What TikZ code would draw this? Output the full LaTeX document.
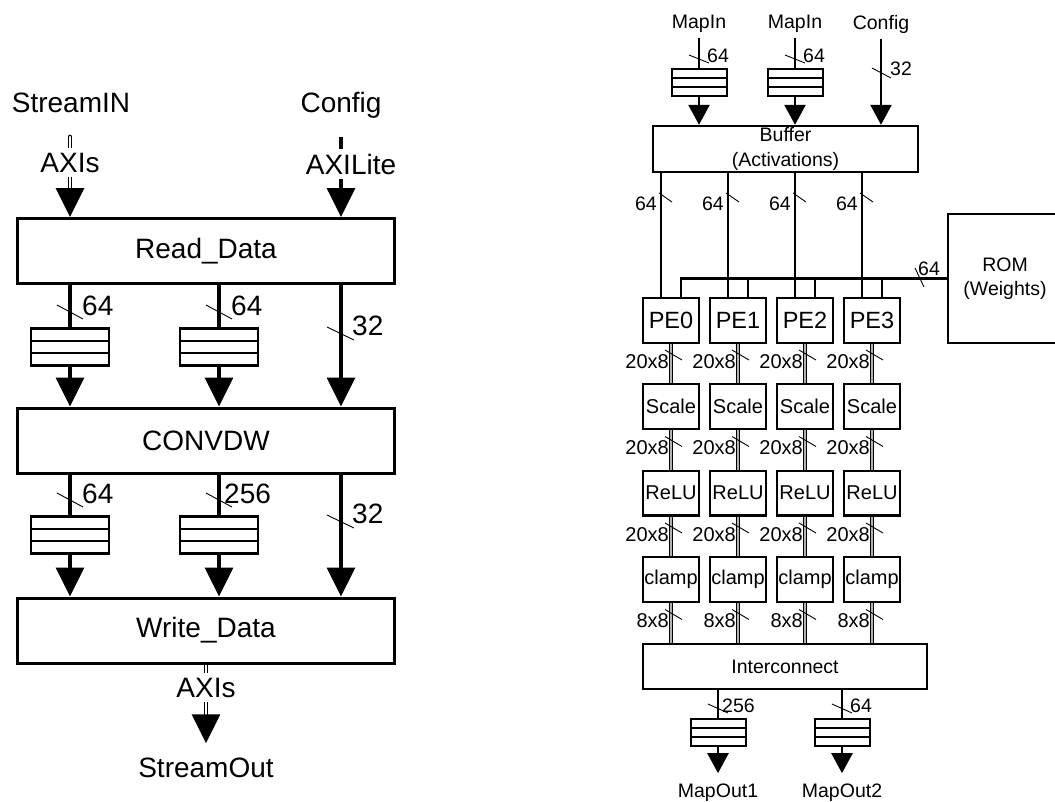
\documentclass[tikz,border=0pt]{standalone}
\usepackage{fontspec}
\setmainfont{Liberation Sans}
\usetikzlibrary{arrows.meta,calc}

\tikzset{
  bigtext/.style={font=\fontsize{28}{32}\selectfont},
  smalltext/.style={font=\fontsize{19.5}{24.5}\selectfont},
  numtext/.style={font=\fontsize{20}{24}\selectfont},
  lbl/.style={bigtext, inner sep=6pt},
  slbl/.style={smalltext, inner sep=6pt},
  nlbl/.style={inner sep=0pt},
  block/.style={draw, line width=3pt, minimum width=377pt, minimum height=65pt, inner sep=0pt, bigtext},
  fifo/.style={draw, inner sep=0pt, line width=#1, path picture={
    \draw[line width=#1]
      ($(path picture bounding box.north west)!1/3!(path picture bounding box.south west)$) --
      ($(path picture bounding box.north east)!1/3!(path picture bounding box.south east)$)
      ($(path picture bounding box.north west)!2/3!(path picture bounding box.south west)$) --
      ($(path picture bounding box.north east)!2/3!(path picture bounding box.south east)$);}},
  bigfifo/.style={fifo=2.6pt, minimum width=78pt, minimum height=37pt},
  smallfifo/.style={fifo=2pt, minimum width=55pt, minimum height=27pt},
  box/.style={draw, line width=2.4pt, inner sep=0pt, align=center, smalltext},
  stage/.style={draw, line width=2.4pt, minimum width=55.6pt, minimum height=44.6pt, inner sep=0pt, numtext},
  pebox/.style={stage, font=\fontsize{23.5}{28}\selectfont},
  bigline/.style={line width=3.2pt},
  bigarrow/.style={line width=3.2pt, -{Triangle[width=28pt,length=29pt]}},
  dblline/.style={double, line width=1.3pt, double distance=2.2pt},
  smallline/.style={line width=2.4pt},
  smallarrow/.style={line width=2.4pt, -{Triangle[width=21pt,length=20pt]}},
  stageline/.style={double=gray!60, line width=0.9pt, double distance=1.4pt},
  tick/.style={line width=0.9pt}
}

\begin{document}
\begin{tikzpicture}[x=1pt, y=-1pt]
\useasboundingbox (0,0) rectangle (1055,801);

% left: streaming wrapper
\node[lbl, anchor=base] (sin) at (71,112) {StreamIN};
\node[lbl, anchor=base] (cfgl) at (341,112) {Config};
\node[block] (rd) at (206,251) {Read\_Data};
\node[block] (cdw) at (206,440.5) {CONVDW};
\node[block] (wd) at (206,630.5) {Write\_Data};
\node[bigfifo] (fa) at (70,347) {};
\node[bigfifo] (fb) at (219,347) {};
\node[bigfifo] (fc) at (70,535) {};
\node[bigfifo] (fd) at (219,535) {};
\node[lbl, anchor=base] (sout) at (206,777) {StreamOut};

% AXI stream in, AXI lite
\coordinate (axtop) at (70,137);
\coordinate (axbot) at (70,190);
\draw[dblline, line cap=round] (axtop) -- (axbot);
\draw[bigarrow] (axbot) -- (rd.north -| axbot);
\node[lbl, anchor=base, fill=white, inner sep=5pt] (axin) at (70,172) {AXIs};
\coordinate (cfgtop) at (341,137);
\draw[bigarrow] (cfgtop) -- (rd.north -| cfgtop);
\node[lbl, anchor=base, fill=white, inner sep=5pt] (axl) at (351,174) {AXILite};

% Read_Data -> CONVDW -> Write_Data
\draw[bigline] (rd.south -| fa) -- (fa.north);
\draw[bigarrow] (fa.south) -- (fa.south |- cdw.north);
\draw[bigline] (rd.south -| fb) -- (fb.north);
\draw[bigarrow] (fb.south) -- (fb.south |- cdw.north);
\draw[bigarrow] (rd.south -| cfgl) -- (cdw.north -| cfgl);
\draw[bigline] (cdw.south -| fc) -- (fc.north);
\draw[bigarrow] (fc.south) -- (fc.south |- wd.north);
\draw[bigline] (cdw.south -| fd) -- (fd.north);
\draw[bigarrow] (fd.south) -- (fd.south |- wd.north);
\draw[bigarrow] (cdw.south -| cfgl) -- (wd.north -| cfgl);

% stream out
\coordinate (axobot) at (206,717);
\draw[dblline] (wd.south) -- (axobot);
\draw[bigarrow, shorten >=8pt] (axobot) -- (sout.north);
\node[lbl, anchor=base, fill=white, inner sep=5pt] (axout) at (206,697) {AXIs};

% bus widths (left)
\foreach \x/\y in {70/312,219/312,70/500,219/500}
  \draw[tick] (\x-13,\y-7) -- (\x+13,\y+7);
\foreach \y in {333.5,521.5}
  \draw[tick] (327,\y-6.5) -- (354,\y+6.5);
\node[nlbl, bigtext, anchor=base west] (lw1) at (82,315) {64};
\node[nlbl, bigtext, anchor=base west] (lw2) at (231,315) {64};
\node[nlbl, bigtext, anchor=base west] (lw3) at (352,335) {32};
\node[nlbl, bigtext, anchor=base west] (lw4) at (82,503) {64};
\node[nlbl, bigtext, anchor=base west] (lw5) at (224,503) {256};
\node[nlbl, bigtext, anchor=base west] (lw6) at (352,523) {32};

% right: accelerator
\node[slbl, anchor=base] (mi1) at (699,28) {MapIn};
\node[slbl, anchor=base] (mi2) at (795,28) {MapIn};
\node[slbl, anchor=base] (cfgr) at (881,29) {Config};
\node[smallfifo] (fi1) at (699,82.5) {};
\node[smallfifo] (fi2) at (795,82.5) {};
\node[box, minimum width=265pt, minimum height=46pt] (buf) at (785.5,149) {Buffer\\(Activations)};
\node[box, minimum width=114pt, minimum height=129pt] (rom) at (1005,278.5) {ROM\\(Weights)};
\node[box, minimum width=284pt, minimum height=45pt] (ic) at (785,666.5) {Interconnect};
\node[smallfifo] (fo1) at (718,732.5) {};
\node[smallfifo] (fo2) at (842,732.5) {};
\node[slbl, anchor=base] (mo1) at (718,797) {MapOut1};
\node[slbl, anchor=base] (mo2) at (842,797) {MapOut2};

\draw[smallline] (mi1.south) -- (fi1.north);
\draw[smallarrow] (fi1.south) -- (fi1.south |- buf.north);
\draw[smallline] (mi2.south) -- (fi2.north);
\draw[smallarrow] (fi2.south) -- (fi2.south |- buf.north);
\draw[smallarrow] (cfgr.south) -- (cfgr.south |- buf.north);
\draw[tick] (689,55) -- (709,63);
\draw[tick] (785,55) -- (805,63);
\draw[tick] (872,68) -- (891,78);
\node[nlbl, smalltext, anchor=base west] (rw1) at (707,62) {64};
\node[nlbl, smalltext, anchor=base west] (rw2) at (803,62) {64};
\node[nlbl, smalltext, anchor=base west] (rw3) at (890,75) {32};

% PE lanes
\foreach \i in {0,...,3} {
  \pgfmathsetmacro{\cx}{671+67*\i}
  \node[pebox] (pe\i) at (\cx,320.5) {PE\i};
  \node[stage] (sc\i) at (\cx,406.5) {Scale};
  \node[stage] (rl\i) at (\cx,493) {ReLU};
  \node[stage] (cl\i) at (\cx,579.5) {clamp};
  \coordinate (bin\i) at ([xshift=-10pt]pe\i.north);
  \coordinate (win\i) at ([xshift=10pt]pe\i.north);
}
\draw[smallline] (rom.west) -| (win0);
\foreach \i in {0,...,3} {
  \draw[smallline] (bin\i) -- (bin\i |- buf.south);
  \draw[smallline] (win\i) -- (win\i |- rom.west);
  \draw[stageline] (pe\i.south) -- (sc\i.north);
  \draw[stageline] (sc\i.south) -- (rl\i.north);
  \draw[stageline] (rl\i.south) -- (cl\i.north);
  \draw[stageline] (cl\i.south) -- (cl\i.south |- ic.north);
}
\draw[tick] (915,268) -- (924,287);
\node[nlbl, smalltext, anchor=base west] (rw4) at (918,275) {64};

% bus widths (right)
\foreach \i in {0,...,3} {
  \pgfmathsetmacro{\bx}{661+67*\i}
  \draw[tick] (\bx-2,193) -- (\bx+11,202);
  \node[nlbl, smalltext, anchor=base east] (bw\i) at (\bx-4,210) {64};
  \pgfmathsetmacro{\cx}{671+67*\i}
  \foreach \r/\t in {0/20x8,1/20x8,2/20x8,3/8x8} {
    \pgfmathsetmacro{\yy}{368+86.5*\r}
    \draw[tick] (\cx-6,\yy-18) -- (\cx+11,\yy-8);
    \node[nlbl, numtext, anchor=base east] (sw\i\r) at (\cx-2,\yy) {\t};
  }
}

% outputs
\draw[smallline] (ic.south -| fo1) -- (fo1.north);
\draw[smallarrow, shorten >=4pt] (fo1.south) -- (mo1.north);
\draw[smallline] (ic.south -| fo2) -- (fo2.north);
\draw[smallarrow, shorten >=4pt] (fo2.south) -- (mo2.north);
\draw[tick] (708,704) -- (728,713);
\draw[tick] (832,704) -- (852,713);
\node[nlbl, smalltext, anchor=base west] (ow1) at (722,712) {256};
\node[nlbl, smalltext, anchor=base west] (ow2) at (850,712) {64};
\end{tikzpicture}
\end{document}
